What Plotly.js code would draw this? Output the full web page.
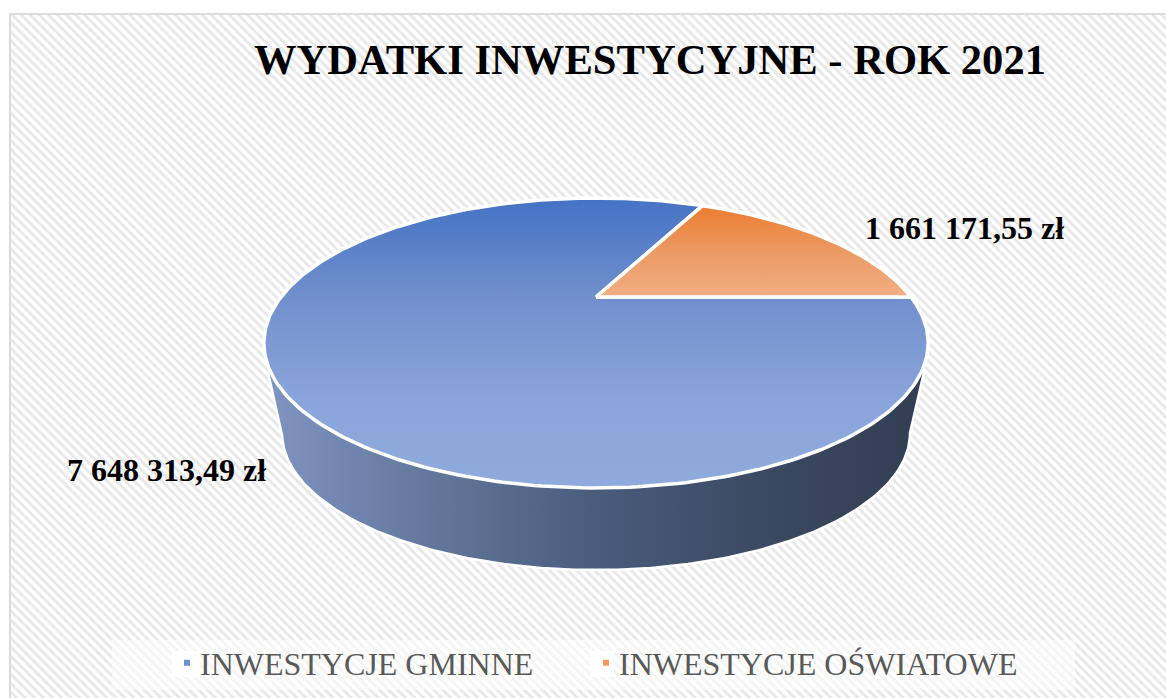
<!DOCTYPE html>
<html>
<head>
<meta charset="utf-8">
<script src="https://cdn.plot.ly/plotly-3.0.1.min.js"></script>
<style>
html,body{margin:0;padding:0;background:#fff;width:1166px;height:698px;overflow:hidden}
#hatch{position:absolute;left:10px;top:14px;right:0;bottom:0;
background:repeating-linear-gradient(45deg,#ffffff 0,#ffffff 2.6px,#e8e8e8 3.6px,#e8e8e8 5.6px,#ffffff 6.4px)}
#chart{position:absolute;left:0;top:0;width:1166px;height:698px}
</style>
</head>
<body>
<div id="hatch"></div>
<div id="chart"></div>
<script>
const chartTitle = 'WYDATKI INWESTYCYJNE - ROK 2021';
const categories = ['INWESTYCJE GMINNE', 'INWESTYCJE OŚWIATOWE'];
const values = [7648313.49, 1661171.55];
const legendColors = ['#6d8fd6', '#f7995f'];

function fmt(v) {
  const [i, d] = v.toFixed(2).split('.');
  return i.replace(/\B(?=(\d{3})+(?!\d))/g, ' ') + ',' + d + ' zł';
}
// perspective projection of the unit pie disc onto the page
const cx = 596, cy = 343, ry = 145, rx = 315, off = 46, persp = off / ry;
function proj(deg) {
  const t = deg * Math.PI / 180, s = Math.sin(t), c = Math.cos(t), w = 1 + persp * s;
  return [cx + rx * c / w, cy - (ry * s + off) / w];
}
function slice(from, to) {
  const xs = [cx], ys = [cy - off];
  for (let a = from; a < to; a += 1) { const p = proj(a); xs.push(p[0]); ys.push(p[1]); }
  const e = proj(to); xs.push(e[0]); ys.push(e[1]);
  xs.push(cx); ys.push(cy - off);
  return [xs, ys];
}
const total = values[0] + values[1];
const sweep = 360 * values[1] / total;
const orange = slice(0, sweep);
const blue = slice(sweep, 360);

// side wall of the disc
const wx = [268], wy = [372];
for (let a = 180; a <= 360; a += 1) {
  const t = a * Math.PI / 180;
  wx.push(596 + 314 * Math.cos(t)); wy.push(433 - 137 * Math.sin(t));
}
wx.push(924); wy.push(372); wx.push(268); wy.push(372);

const white = {color: '#ffffff', width: 3.5};
const traces = [
  {x: wx, y: wy, mode: 'lines', fill: 'toself', line: {color: '#ffffff', width: 2.5}, hoverinfo: 'skip', showlegend: false,
   fillgradient: {type: 'horizontal', start: 268, stop: 924,
     colorscale: [[0, '#7f94c0'], [0.25, '#62779b'], [0.5, '#4a5c7c'], [0.75, '#3b4962'], [1, '#323e52']]}},
  {x: blue[0], y: blue[1], mode: 'lines', fill: 'toself', line: white, name: categories[0], showlegend: false,
   fillgradient: {type: 'vertical', start: 199, stop: 487,
     colorscale: [[0, '#4472c4'], [0.34, '#7190cc'], [0.7, '#8aa5da'], [1, '#8faadc']]}},
  {x: orange[0], y: orange[1], mode: 'lines', fill: 'toself', line: white, name: categories[1], showlegend: false,
   fillgradient: {type: 'vertical', start: 206, stop: 297,
     colorscale: [[0, '#eb7c30'], [0.5, '#ec9a63'], [1, '#f1ae84']]}},
  {x: [-100], y: [-100], mode: 'markers', name: categories[0], legend: 'legend', showlegend: true,
   marker: {symbol: 'square', size: 6, color: legendColors[0]}},
  {x: [-100], y: [-100], mode: 'markers', name: categories[1], legend: 'legend2', showlegend: true,
   marker: {symbol: 'square', size: 6, color: legendColors[1]}}
];

const legendFont = {family: '"Liberation Serif", serif', size: 32, color: '#595959'};
const layout = {
  width: 1166, height: 698,
  margin: {l: 0, r: 0, t: 0, b: 0},
  paper_bgcolor: 'rgba(0,0,0,0)', plot_bgcolor: 'rgba(0,0,0,0)',
  font: {family: '"Liberation Serif", serif'},
  title: {text: '<b>' + chartTitle + '</b>', x: 650 / 1166, xanchor: 'center', y: 1 - 59 / 698, yanchor: 'middle',
          font: {family: '"Liberation Serif", serif', size: 42.6, color: '#000'}},
  xaxis: {range: [0, 1166], visible: false, fixedrange: true},
  yaxis: {range: [698, 0], visible: false, fixedrange: true},
  showlegend: true,
  legend: {orientation: 'h', x: 160 / 1166, xanchor: 'left', y: 1 - 663 / 698, yanchor: 'middle',
           font: legendFont, bgcolor: 'rgba(0,0,0,0)', itemwidth: 30},
  legend2: {orientation: 'h', x: 579 / 1166, xanchor: 'left', y: 1 - 663 / 698, yanchor: 'middle',
           font: legendFont, bgcolor: 'rgba(0,0,0,0)', itemwidth: 30},
  annotations: [
    {text: '<b>' + fmt(values[1]) + '</b>', x: 964, y: 228, xref: 'x', yref: 'y', showarrow: false,
     font: {family: '"Liberation Serif", serif', size: 32, color: '#000'}},
    {text: '<b>' + fmt(values[0]) + '</b>', x: 166.5, y: 470, xref: 'x', yref: 'y', showarrow: false,
     font: {family: '"Liberation Serif", serif', size: 32, color: '#000'}}
  ],
  shapes: [
    {type: 'rect', xref: 'x', yref: 'y', x0: 112, x1: 1075, y0: 640, y1: 690, layer: 'below', line: {width: 0}, fillcolor: 'rgba(255,255,255,0.55)'},
    {type: 'rect', xref: 'x', yref: 'y', x0: 172, x1: 200, y0: 651, y1: 677, layer: 'below', line: {width: 0}, fillcolor: '#ffffff'},
    {type: 'rect', xref: 'x', yref: 'y', x0: 590, x1: 614, y0: 651, y1: 677, layer: 'below', line: {width: 0}, fillcolor: '#ffffff'},
    {type: 'line', xref: 'x', yref: 'y', x0: 10, x1: 10, y0: 13, y1: 698, layer: 'below', line: {color: '#dcdcdc', width: 2}},
    {type: 'line', xref: 'x', yref: 'y', x0: 9, x1: 1166, y0: 14, y1: 14, layer: 'below', line: {color: '#dcdcdc', width: 2}}
  ]
};
Plotly.newPlot('chart', traces, layout, {displayModeBar: false, staticPlot: true}).then(function (gd) {
  // the reference keeps its legend keys closer to their labels
  gd.querySelectorAll('.legendsymbols').forEach(function (g) { g.setAttribute('transform', 'translate(7,0)'); });
});
</script>
</body>
</html>
